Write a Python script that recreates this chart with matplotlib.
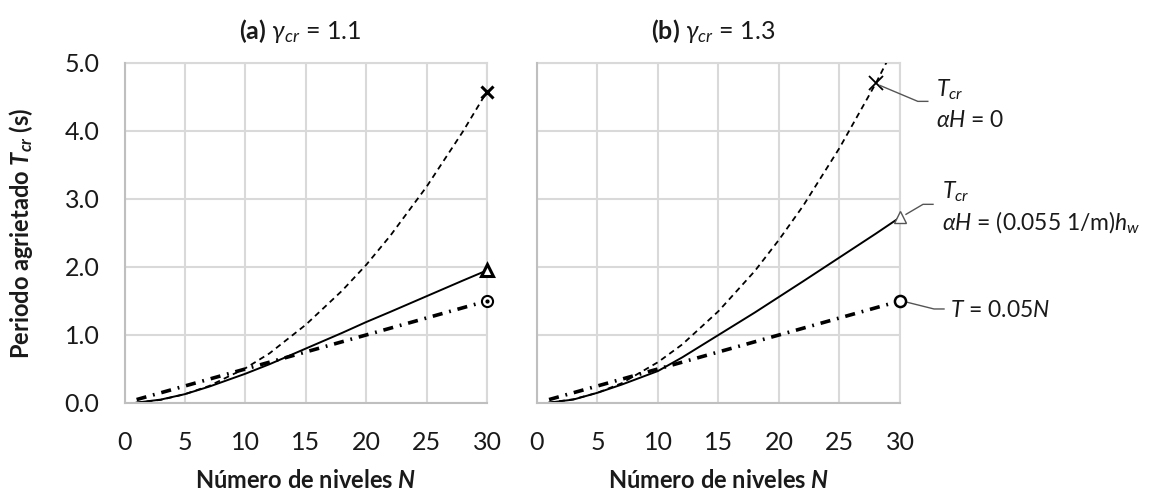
import matplotlib
matplotlib.use("Agg")
import matplotlib.pyplot as plt
import matplotlib.transforms as mtransforms
from matplotlib.lines import Line2D

plt.rcParams['font.family'] = ['Lato', 'DejaVu Sans']
plt.rcParams['mathtext.fontset'] = 'custom'
plt.rcParams['mathtext.rm'] = 'Lato'
plt.rcParams['mathtext.it'] = 'Lato:italic'
plt.rcParams['mathtext.bf'] = 'Lato:bold'
plt.rcParams['mathtext.bfit'] = 'Lato:italic:bold'
plt.rcParams['mathtext.fallback'] = 'stix'

# Number of storeys
levels = [1, 3, 5, 7, 10, 12, 15, 18, 20, 22, 25, 28, 30]

# (a) gamma_cr = 1.1
tcr_a_free = [0.005, 0.046, 0.13, 0.25, 0.51, 0.73, 1.15, 1.65, 2.03, 2.46, 3.18, 3.99, 4.58]
tcr_a_wall = [0.005, 0.05, 0.13, 0.24, 0.43, 0.57, 0.80, 1.03, 1.19, 1.34, 1.57, 1.80, 1.95]

# (b) gamma_cr = 1.3
tcr_b_free = [0.006, 0.054, 0.15, 0.29, 0.60, 0.86, 1.35, 1.94, 2.40, 2.90, 3.75, 4.70, 5.40]
tcr_b_wall = [0.005, 0.05, 0.15, 0.27, 0.47, 0.67, 1.00, 1.33, 1.56, 1.79, 2.14, 2.49, 2.73]

# Code approximation T = 0.05 N
code_levels = [1, 30]
code_period = [0.05, 1.50]

x_ticks = [0, 5, 10, 15, 20, 25, 30]
y_ticks = [0.0, 1.0, 2.0, 3.0, 4.0, 5.0]

fig = plt.figure(figsize=(11.54, 4.95), dpi=100)
ax_a = fig.add_axes([0.1079, 0.1859, 0.3141, 0.6869])
ax_b = fig.add_axes([0.4653, 0.1859, 0.3146, 0.6869])

grid_col = '#d9d9d9'
text_col = '#1a1a1a'
for ax in (ax_a, ax_b):
    ax.set_xlim(0, 30)
    ax.set_ylim(0, 5.0)
    ax.set_xticks(x_ticks)
    ax.set_yticks(y_ticks)
    ax.set_xticklabels([str(t) for t in x_ticks])
    ax.grid(True, color=grid_col, lw=1.5)
    ax.set_axisbelow(True)
    for s in ('top', 'right'):
        ax.spines[s].set_visible(False)
    for s in ('left', 'bottom'):
        ax.spines[s].set_color('#bfbfbf')
        ax.spines[s].set_linewidth(1.5)
    ax.tick_params(length=0, labelsize=18, colors=text_col)
    ax.tick_params(axis='x', pad=20)
    ax.tick_params(axis='y', pad=18)
    ax.set_xlabel(r"Número de niveles $\mathbfit{N}$", fontsize=17,
                  fontweight='bold', labelpad=11, color=text_col)
    # edge grid lines along the top and right borders
    ax.axhline(5.0, color=grid_col, lw=1.5, clip_on=False, zorder=0.5)
    ax.axvline(30, color=grid_col, lw=1.5, clip_on=False, zorder=0.5)

ax_a.set_yticklabels([f"{t:.1f}" for t in y_ticks])
ax_b.set_yticklabels([])
ax_a.set_ylabel(r"Periodo agrietado $\mathbfit{T_{cr}}$ (s)", fontsize=17,
                fontweight='bold', labelpad=21, color=text_col)

ax_a.set_title(r"$\mathbf{(a)}$ $\gamma_{cr}$ = 1.1", fontsize=18, pad=17,
               color=text_col, x=0.486)
ax_b.set_title(r"$\mathbf{(b)}$ $\gamma_{cr}$ = 1.3", fontsize=18, pad=17,
               color=text_col, x=0.486)

dash = (3.2, 2.4)
dashdot = (2.8, 1.9, 0.5, 1.9)

# panel (a)
ax_a.plot(levels, tcr_a_free, color='black', lw=1.3, dashes=dash)
ax_a.plot(levels, tcr_a_wall, color='black', lw=1.4)
ax_a.plot(code_levels, code_period, color='black', lw=2.6, dashes=dashdot)
ax_a.plot(levels[-1], tcr_a_free[-1], marker='x', ms=8, mew=2.2, color='black',
          clip_on=False, zorder=5)
ax_a.plot(levels[-1], tcr_a_wall[-1], marker='^', ms=9, mew=2.2, mfc='white',
          mec='black', clip_on=False, zorder=5)
ax_a.plot(code_levels[-1], code_period[-1], marker='o', ms=8, mew=1.5, mfc='white',
          mec='black', clip_on=False, zorder=5)
ax_a.plot(code_levels[-1], code_period[-1], marker='o', ms=2, color='black',
          clip_on=False, zorder=6)

# panel (b)
ax_b.plot(levels, tcr_b_free, color='black', lw=1.3, dashes=dash)
ax_b.plot(levels, tcr_b_wall, color='black', lw=1.4)
ax_b.plot(code_levels, code_period, color='black', lw=2.6, dashes=dashdot)
i_mark = levels.index(28)
ax_b.plot(levels[i_mark], tcr_b_free[i_mark], marker='x', ms=10, mew=1.3, color='black')
ax_b.plot(levels[-1], tcr_b_wall[-1], marker='^', ms=9, mew=1.0, mfc='white',
          mec='#555555', clip_on=False, zorder=5)
ax_b.plot(code_levels[-1], code_period[-1], marker='o', ms=8, mew=1.8, mfc='white',
          mec='black', clip_on=False, zorder=5)


def callout(ax, xy, start, elbow, end, labels):
    """Leader line (offsets in pixels from the marked point) plus its text block."""
    tr = mtransforms.Affine2D().scale(1, -1) + mtransforms.ScaledTranslation(
        xy[0], xy[1], ax.transData)
    ax.add_line(Line2D([start[0], elbow[0], end], [start[1], elbow[1], elbow[1]],
                       transform=tr, color='#555555', lw=1.0, clip_on=False))
    for txt, dx, dy in labels:
        ax.annotate(txt, xy=xy, xytext=(dx, -dy), textcoords='offset pixels',
                    fontsize=16.5, va='center', ha='left', color=text_col,
                    annotation_clip=False)


pts_free = (levels[i_mark], tcr_b_free[i_mark])
pts_wall = (levels[-1], tcr_b_wall[-1])
pts_code = (code_levels[-1], code_period[-1])

# pixel offsets, y measured downward
callout(ax_b, pts_free, (4, 2), (42, 18), 52,
        [(r"$\mathit{T_{cr}}$", 60, 6), (r"$\mathit{\alpha H}$ = 0", 60, 37)])
callout(ax_b, pts_wall, (6, -3), (23, -13), 33,
        [(r"$\mathit{T_{cr}}$", 42, -26), (r"$\mathit{\alpha H}$ = (0.055 1/m)$\mathit{h_w}$", 42, 6)])
callout(ax_b, pts_code, (6, 1), (34, 8), 44,
        [(r"$\mathit{T}$ = 0.05$\mathit{N}$", 50, 10)])

fig.savefig("out.png", dpi=100)
